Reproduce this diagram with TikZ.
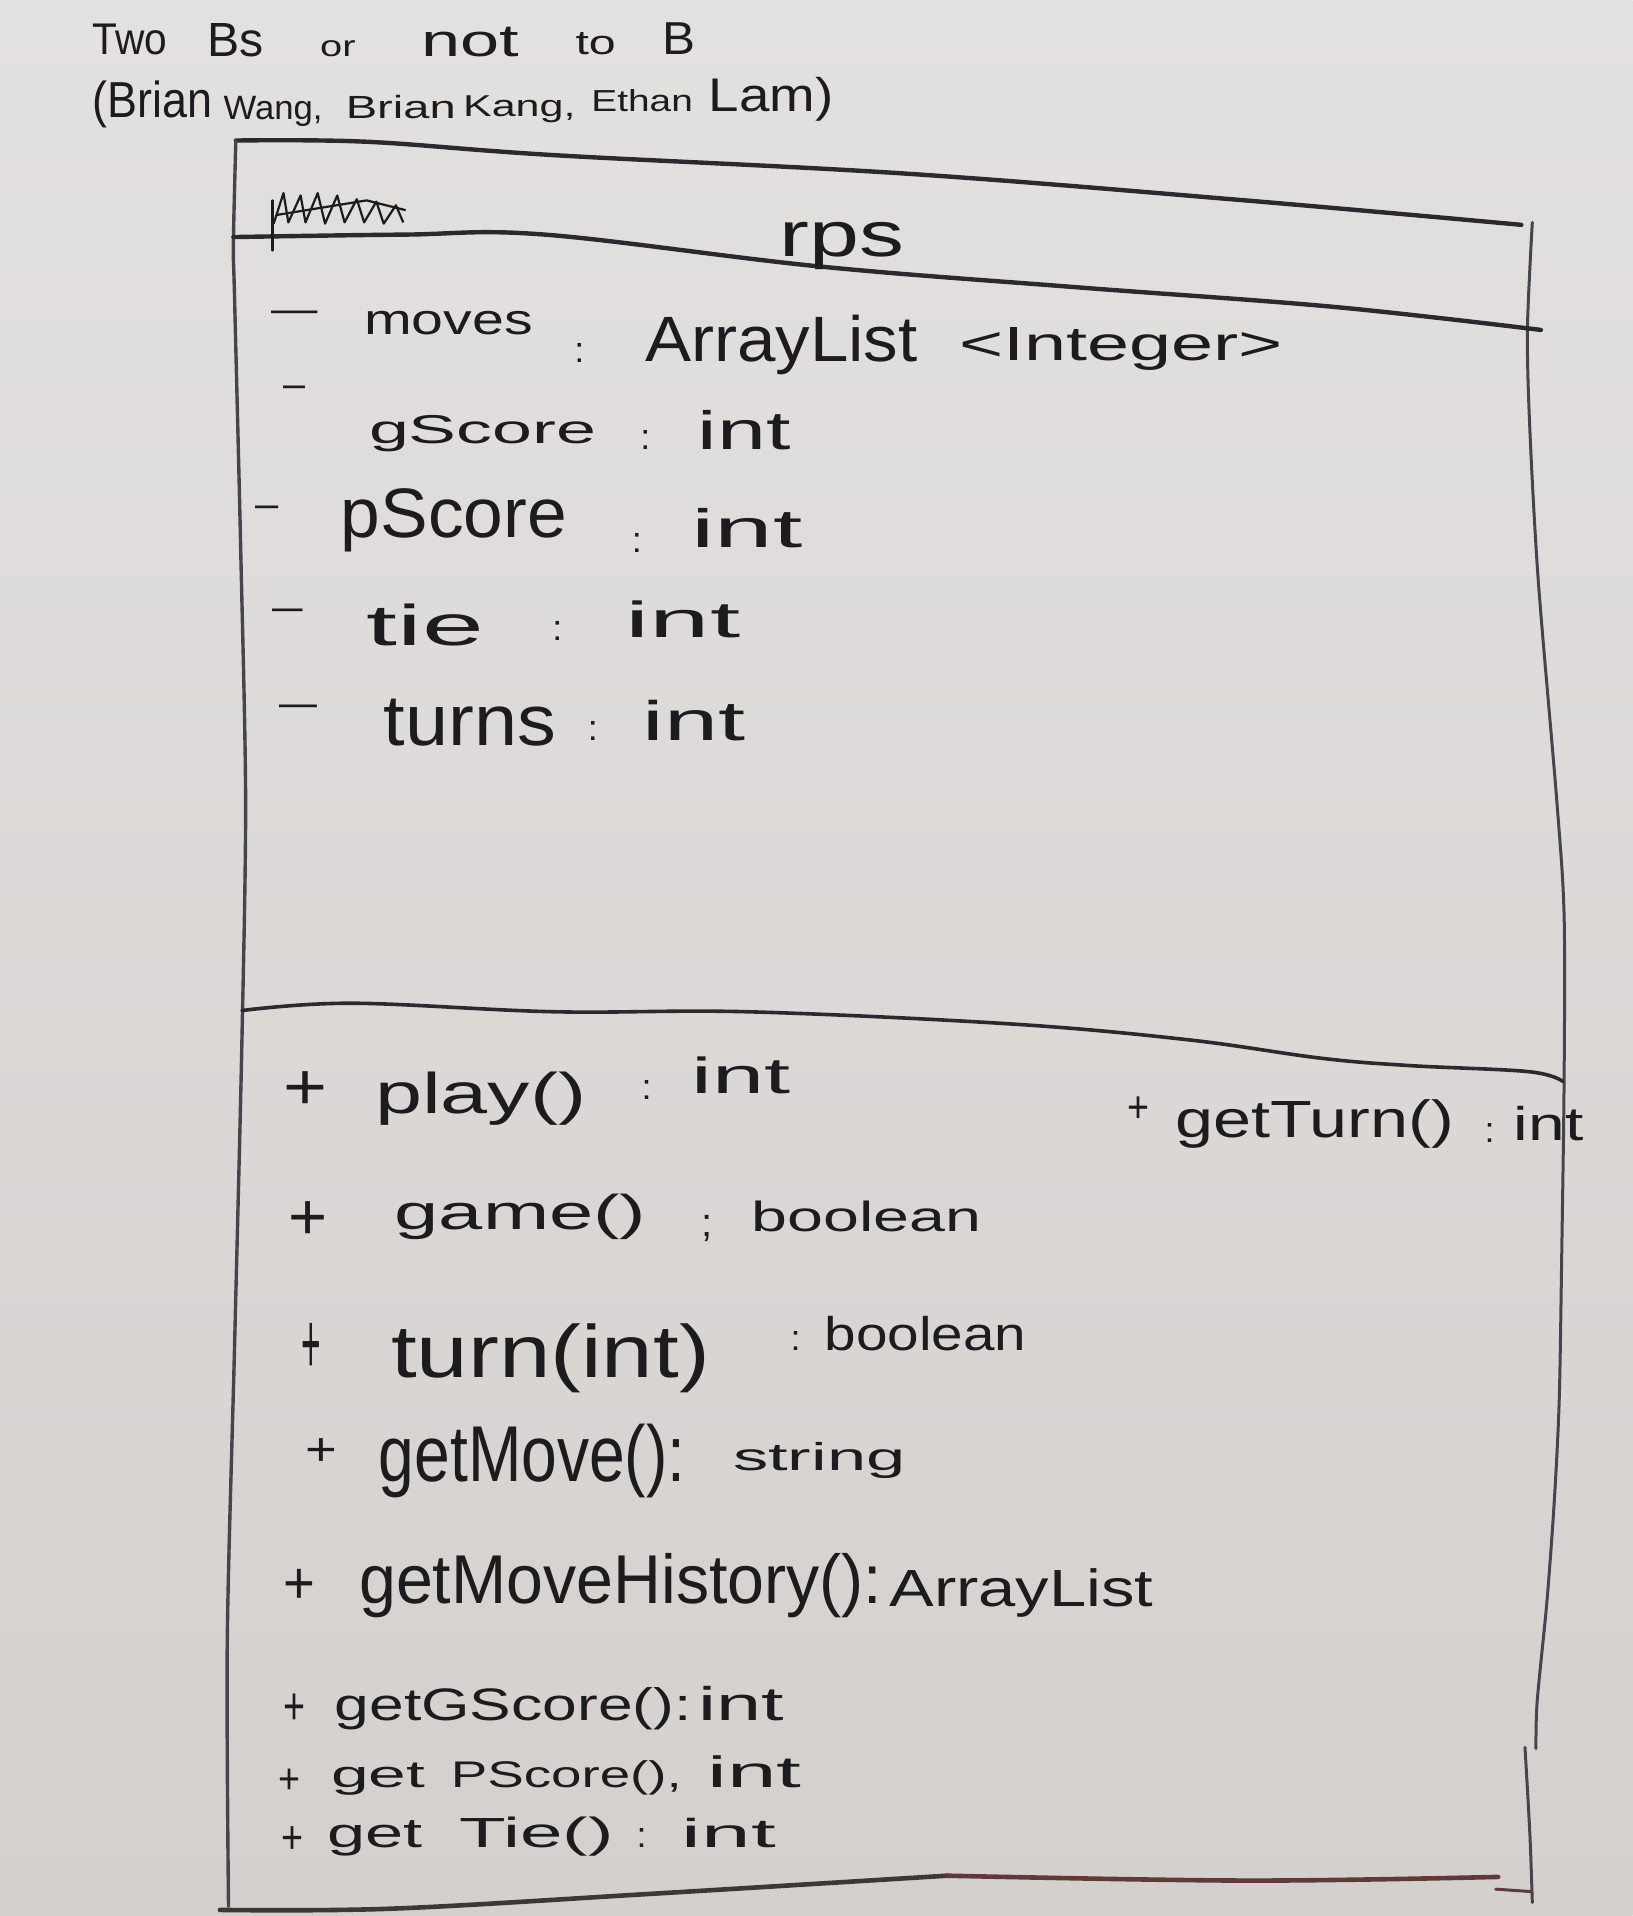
\documentclass[tikz,border=0pt]{standalone}
\usepackage{fontspec}
\usepackage{graphicx}
\setmainfont{Liberation Sans}
\definecolor{paperA}{HTML}{E3E1E0}
\definecolor{paperB}{HTML}{D4D0CE}
\definecolor{ink}{HTML}{1C1C1F}
\definecolor{pencil}{HTML}{2A2A2E}
\definecolor{edgeink}{HTML}{45454D}
\definecolor{redA}{HTML}{3D3737}
\definecolor{redB}{HTML}{5E3A38}
\newlength\ux
\setlength\ux{1.2216pt}
% word squeezed into a box of given width and height (in picture units)
\newcommand\hw[3]{\resizebox{#1\ux}{#2\ux}{\fontsize{44}{44}\selectfont #3}}
% visibility dash stretched to a given width
\newcommand\hd[1]{\resizebox{#1\ux}{\height}{\fontsize{40}{40}\selectfont –}}
\begin{document}
\begin{tikzpicture}[x=1.2216pt,y=-1.2216pt,
  txt/.style={inner sep=0pt,outer sep=0pt,anchor=base west,text=ink},
  dashmark/.style={inner sep=0pt,outer sep=0pt,anchor=mid west,text=ink,font=\fontsize{40}{40}\selectfont},
  colon/.style={inner sep=0pt,outer sep=0pt,anchor=base west,text=ink,font=\fontsize{36}{36}\selectfont},
  rule/.style={draw=pencil,line width=4.4pt,line cap=round,line join=round},
  edge/.style={draw=edgeink,line width=3pt,line cap=round,line join=round}]
\useasboundingbox (0,0) rectangle (1336,1568);
\shade[top color=paperA,bottom color=paperB] (0,0) rectangle (1336,1568);

% ---- class box outline ----
\draw[rule] plot[smooth,tension=0.6] coordinates {(193,115) (300,116) (454,127) (740,142) (1019,164) (1245,184)};
\draw[edge,line width=3.4pt] plot[smooth,tension=0.5] coordinates {(193,115) (191,200) (192,245) (197,450) (201,655) (198,851) (192,1100) (186,1342) (187,1560)};
\draw[edge] plot[smooth,tension=0.5] coordinates {(1254,182) (1250,270) (1252,352) (1259,477) (1274,655) (1280,749) (1280,885) (1278,1031) (1276,1146) (1272,1228) (1266,1310) (1258,1392) (1257,1431)};
\draw[edge] plot[smooth,tension=0.5] coordinates {(1248,1430) (1252,1501) (1254,1557)};
% name compartment divider
\draw[rule] plot[smooth,tension=0.6] coordinates {(191,194) (330,192) (446,192) (670,218) (880,235) (1090,251) (1261,270)};
% attribute / operation divider
\draw[rule,line width=3.6pt] plot[smooth,tension=0.6] coordinates {(198,827) (288,821) (454,828) (612,828) (828,838) (973,851) (1081,866) (1153,872) (1251,877) (1279,885)};
% bottom edge
\draw[rule,draw=redA,line width=4.6pt] plot[smooth,tension=0.6] coordinates {(180,1563) (320,1562) (530,1550) (775,1535)};
\draw[rule,draw=redB,line width=4.6pt] plot[smooth,tension=0.6] coordinates {(775,1535) (1020,1539) (1226,1536)};
\draw[rule,draw=redB,line width=3pt] (1224,1546) -- (1253,1548);

% ---- crossed-out word ----
\draw[draw=ink,line width=2.2pt,line join=round] (224,183) -- (232,158) -- (236,182) -- (246,160) -- (250,182) -- (260,158) -- (266,183) -- (276,160) -- (282,182) -- (292,163) -- (298,182) -- (308,165) -- (314,183) -- (324,168) -- (330,182);
\draw[draw=ink,line width=2.2pt] (226,176) -- (300,164) -- (332,172);
\draw[draw=ink,line width=2.2pt,line cap=round] (223,164) -- (223,205);

% ---- header ----
\node[txt] (h1) at (76,45) {\hw{61}{25}{Two}};
\node[txt] (h2) at (170,46) {\hw{46}{27}{Bs}};
\node[txt] (h3) at (262,46) {\hw{29}{13}{or}};
\node[txt] (h4) at (345,46) {\hw{80}{24}{not}};
\node[txt] (h5) at (471,45) {\hw{33}{18}{to}};
\node[txt] (h6) at (542,45) {\hw{27}{26}{B}};
\node[txt] (h7) at (76,96) {\hw{98}{30}{(Brian}};
\node[txt] (h8) at (183,98) {\hw{81}{19}{Wang,}};
\node[txt] (h9) at (283,97) {\hw{90}{19}{Brian}};
\node[txt] (h10) at (379,95.5) {\hw{92}{17}{Kang,}};
\node[txt] (h11) at (484,91.5) {\hw{83}{18}{Ethan}};
\node[txt] (h12) at (580,91.5) {\hw{102}{28}{Lam)}};

% ---- class name ----
\node[txt] (cname) at (638,210) {\hw{102}{28}{rps}};

% ---- attributes ----
\node[dashmark] (a1d) at (222,262) {\hd{38}};
\node[txt] (a1n) at (298,274) {\hw{138}{19}{moves}};
\node[colon] (a1c) at (470,297) {:};
\node[txt] (a1t) at (528,296) {\hw{223}{38}{ArrayList}};
\node[txt] (a1g) at (785,295) {\hw{265}{27}{<Integer>}};

\node[dashmark] (a2d) at (232,323) {\hd{18}};
\node[txt] (a2n) at (302,363) {\hw{186}{23}{gScore}};
\node[colon] (a2c) at (524,368) {:};
\node[txt] (a2t) at (571,368) {\hw{76}{32}{int}};

\node[dashmark] (a3d) at (209,421) {\hd{19}};
\node[txt] (a3n) at (279,440) {\hw{185}{40}{pScore}};
\node[colon] (a3c) at (517,452) {:};
\node[txt] (a3t) at (566,448) {\hw{91}{32}{int}};

\node[dashmark] (a4d) at (223,506) {\hd{25}};
\node[txt] (a4n) at (300,528) {\hw{96}{34}{tie}};
\node[colon] (a4c) at (452,524) {:};
\node[txt] (a4t) at (512,522) {\hw{94}{30}{int}};

\node[dashmark] (a5d) at (229,584) {\hd{31}};
\node[txt] (a5n) at (314,610) {\hw{141}{38}{turns}};
\node[colon] (a5c) at (481,606) {:};
\node[txt] (a5t) at (526,606) {\hw{84}{33}{int}};

% ---- operations ----
\node[txt] (m1p) at (232,908) {\hw{36}{31}{+}};
\node[txt] (m1n) at (307,911) {\hw{173}{34}{play()}};
\node[colon] (m1c) at (525,900) {:};
\node[txt] (m1t) at (566,895) {\hw{81}{30}{int}};

\node[txt] (m9p) at (923,919) {\hw{18}{21}{+}};
\node[txt] (m9n) at (962,931) {\hw{228}{31}{getTurn()}};
\node[colon] (m9c) at (1215,935) {:};
\node[txt] (m9t) at (1239,933) {\hw{57}{28}{int}};

\node[txt] (m2p) at (236,1014) {\hw{32}{31}{+}};
\node[txt] (m2n) at (323,1006) {\hw{206}{29}{game()}};
\node[colon,font=\fontsize{40}{40}\selectfont] (m2c) at (574,1012) {;};
\node[txt] (m2t) at (615,1008) {\hw{188}{25}{boolean}};

\node[txt] (m3p) at (247,1124) {\hw{16}{41}{+}};
\node[txt] (m3n) at (320,1127) {\hw{261}{44}{turn(int)}};
\node[colon] (m3c) at (647,1105) {:};
\node[txt] (m3t) at (675,1105) {\hw{165}{28}{boolean}};

\node[txt] (m4p) at (250,1199) {\hw{26}{22}{+}};
\node[txt] (m4n) at (310,1212) {\hw{251}{47}{getMove():}};
\node[txt] (m4t) at (600,1203) {\hw{141}{23}{string}};

\node[txt] (m5p) at (232,1312) {\hw{26}{28}{+}};
\node[txt] (m5n) at (294,1312) {\hw{428}{41}{getMoveHistory():}};
\node[txt] (m5t) at (728,1315) {\hw{216}{31}{ArrayList}};

\node[txt] (m6p) at (232,1411) {\hw{18}{25}{+}};
\node[txt] (m6n) at (274,1408) {\hw{292}{27}{getGScore():}};
\node[txt] (m6t) at (572,1408) {\hw{70}{28}{int}};

\node[txt] (m7p) at (228,1468) {\hw{18}{20}{+}};
\node[txt] (m7g) at (271,1463) {\hw{77}{20}{get}};
\node[txt] (m7n) at (369,1463) {\hw{189}{22}{PScore(),}};
\node[txt] (m7t) at (579,1463) {\hw{77}{26}{int}};

\node[txt] (m8p) at (230,1517) {\hw{18}{22}{+}};
\node[txt] (m8g) at (268,1512) {\hw{78}{22}{get}};
\node[txt] (m8n) at (376,1512) {\hw{126}{25}{Tie()}};
\node[colon] (m8c) at (521,1512) {:};
\node[txt] (m8t) at (558,1512) {\hw{77}{24}{int}};
\end{tikzpicture}
\end{document}
